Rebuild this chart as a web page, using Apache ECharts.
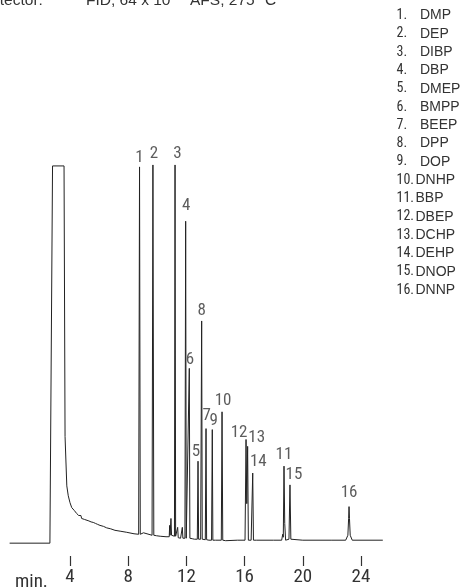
<!DOCTYPE html>
<html><head><meta charset="utf-8">
<script src="https://cdn.jsdelivr.net/npm/echarts@6/dist/echarts.min.js"></script>
<style>html,body{margin:0;padding:0;background:#fff}#c{width:468px;height:587px}</style>
</head><body><div id="c"></div>
<script>
// ---- data ----
const compoundNames = ['DMP','DEP','DIBP','DBP','DMEP','BMPP','BEEP','DPP','DOP','DNHP','BBP','DBEP','DCHP','DEHP','DNOP','DNNP'];
const peakNumbers = [1,2,3,4,6,5,8,7,9,10,12,13,14,11,15,16];
const peakTimes   = [8.78,9.70,11.22,11.95,12.20,12.80,13.05,13.35,13.78,14.45,16.10,16.21,16.56,18.71,19.12,23.18];
const peakHeights = [381,383,383,326,177,83,225,116,115,133,105,98,71,78,59,37];
const tickValues = [4,8,12,16,20,24];
const traceTime = [
 -0.15,2.62,2.80,3.59,3.66,3.78,3.88,4.00,4.12,4.30,4.46,4.55,4.60,4.69,4.75,4.80,4.91,5.00,5.05,5.12,5.30,5.38,5.45,5.60,5.75,5.82,5.90,6.06,6.30,6.40,6.52,6.80,7.09,7.50,7.90,7.95,8.00,8.40,8.72,
 8.78,8.83,8.95,9.05,9.15,9.64,
 9.70,9.76,9.85,9.95,10.20,10.60,10.82,10.85,10.88,10.94,10.98,11.05,11.18,
 11.22,11.26,11.36,11.40,11.44,11.60,11.69,11.72,11.76,11.90,
 11.95,11.99,12.12,12.20,12.24,12.40,12.55,12.64,12.75,
 12.80,12.84,12.98,13.05,13.09,13.20,13.30,13.35,13.39,13.55,13.73,13.78,13.82,14.00,14.40,
 14.45,14.50,14.70,15.50,16.03,16.10,16.15,16.21,16.26,16.45,16.50,16.56,16.61,16.80,18.00,
 18.55,18.62,18.66,18.71,18.76,18.82,18.95,19.05,19.12,19.18,19.30,20.00,22.00,22.95,
 23.10,23.15,23.18,23.21,23.26,23.40,25.50
];
const traceSignal = [
 0,0,382,382,108,58,48,41,36,33,30,30.5,28,27,28,25,25,24,25.5,23,22.5,23.5,21.5,21,20,21,19,18,17,17.8,15.5,14.5,13,12,11,12.5,11,9.5,9,
 381,9,9,10.5,8.5,8,
 383,8,9,7.5,7,6.5,6.5,18,8,25,8,7,7,
 383,7,6,16,5.5,5,5,16,5,5,
 326,5,5,177,5,4.5,4,6,4,
 83,4,4,225,4,3.5,3.5,116,3.5,3,3,115,3,3,3,
 133,3,2.5,3,3,105,40,98,3,3,3,71,3,3,3,
 3,9,6,78,20,3,3,4,59,4,3,3,3,3,
 8,25,37,25,8,3,3
];
// ---- styling (label offsets: dx, gap above peak, px) ----
const labelOffsets = [[0,3],[1,5],[2.5,5],[0.6,9],[0.7,3],[-2,3],[0,4],[0.7,7],[1.4,3],[1,5],[-7,1],[9,3],[5.6,5],[0,5],[4,4],[0,8]];
const narrow = "'Roboto Condensed','DejaVu Sans Condensed',sans-serif";
const regular = "'Liberation Sans',Arial,Helvetica,sans-serif";
const textColor = '#333';

const chart = echarts.init(document.getElementById('c'), null, {renderer:'canvas'});
const traceData = traceTime.map((t,i)=>[t, traceSignal[i]]);
const labelData = peakTimes.map((t,i)=>({
  value:[t, peakHeights[i]],
  label:{offset:[labelOffsets[i][0], -(labelOffsets[i][1]-2.5)]}
}));

const graphics = [];
// header line (cut at the top edge)
const hdr = {fontSize:15.5, fontFamily:regular, fill:textColor, verticalAlign:'bottom'};
graphics.push({type:'text', x:-20, y:9, style:Object.assign({text:'Detector:'}, hdr)});
graphics.push({type:'text', x:86, y:9, style:Object.assign({text:'FID, 64 x 10'}, hdr)});
graphics.push({type:'text', x:172, y:1, style:{text:'\u221211', fontSize:10, fontFamily:regular, fill:textColor, verticalAlign:'bottom'}});
graphics.push({type:'text', x:190, y:9, style:Object.assign({text:'AFS, 275 \u00b0C'}, hdr)});
// compound list
compoundNames.forEach((n,i)=>{
  const y = 15.5 + 18.3*i;
  graphics.push({type:'text', x:396.5, y:y, style:{text:(i+1)+'.', fontSize:14, fontFamily:narrow, fill:textColor, verticalAlign:'middle'}});
  graphics.push({type:'text', x:(i<9?420:415.5), y:y, style:{text:n, fontSize:14, fontFamily:regular, fill:textColor, verticalAlign:'middle'}});
});
// axis unit
graphics.push({type:'text', x:15, y:582, style:{text:'min.', fontSize:19, fontFamily:narrow, fill:textColor, verticalAlign:'middle'}});

chart.setOption({
  animation:false,
  backgroundColor:'#fff',
  grid:{left:9.62, right:85.2, top:160, bottom:26, containLabel:false},
  xAxis:{
    type:'value', min:-0.15, max:25.5,
    axisLine:{show:false, onZero:false},
    splitLine:{show:false},
    axisTick:{show:true, customValues:tickValues, length:10, lineStyle:{color:'#333', width:1.2}},
    axisLabel:{show:true, customValues:tickValues, margin:12, fontSize:19, fontFamily:narrow, color:textColor}
  },
  yAxis:{type:'value', min:-13, max:388, show:false, splitLine:{show:false}},
  series:[
    {type:'line', data:traceData, showSymbol:false, symbol:'none', clip:false,
     lineStyle:{color:'#222', width:1}, silent:true},
    {type:'scatter', data:labelData, symbolSize:0, silent:true,
     label:{show:true, position:'top', distance:0, fontSize:17, fontFamily:narrow, color:textColor,
       formatter:(p)=>String(peakNumbers[p.dataIndex])}}
  ],
  graphic:graphics
});
</script>
</body></html>
